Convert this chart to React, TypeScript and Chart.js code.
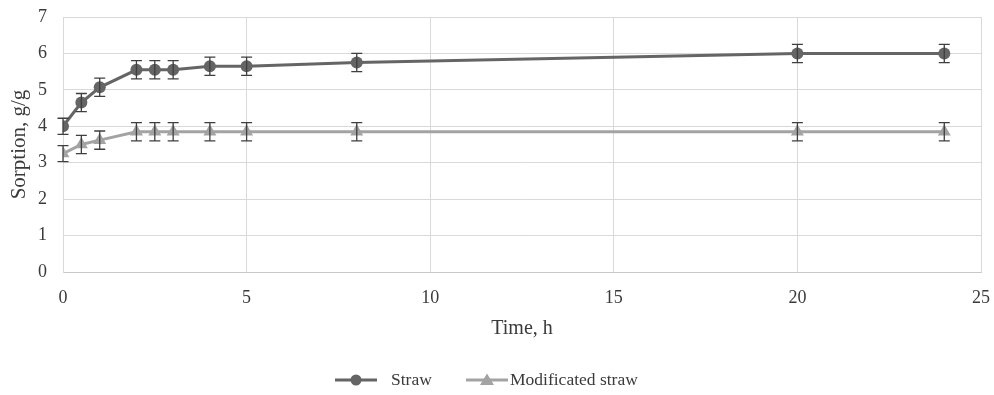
import React, { useEffect, useRef } from "react";
import { Chart, registerables } from "chart.js";

Chart.register(...registerables);

const times = [0, 0.5, 1, 2, 2.5, 3, 4, 5, 8, 20, 24];
const strawValues = [4.0, 4.65, 5.07, 5.55, 5.55, 5.55, 5.65, 5.65, 5.75, 6.0, 6.0];
const strawErrors = [0.22, 0.25, 0.25, 0.25, 0.25, 0.25, 0.25, 0.25, 0.25, 0.25, 0.25];
const modValues = [3.25, 3.5, 3.62, 3.85, 3.85, 3.85, 3.85, 3.85, 3.85, 3.85, 3.85];
const modErrors = [0.22, 0.25, 0.25, 0.25, 0.25, 0.25, 0.25, 0.25, 0.25, 0.25, 0.25];
const seriesNames = ["Straw", "Modificated straw"];
const xTitle = "Time, h";
const yTitle = "Sorption, g/g";

const FONT = "'Liberation Serif', 'Times New Roman', serif";
const STRAW_COLOR = "#656565";
const MOD_COLOR = "#a3a3a3";
const ERR_COLOR = "#3f3f3f";
const TEXT_COLOR = "#3a3a3a";

const errorBarPlugin = {
  id: "errorBars",
  afterDatasetsDraw(chart: any) {
    const ctx = chart.ctx;
    const yScale = chart.scales.y;
    const errs = [strawErrors, modErrors];
    chart.data.datasets.forEach((ds: any, di: number) => {
      const meta = chart.getDatasetMeta(di);
      meta.data.forEach((pt: any, i: number) => {
        const v = ds.data[i].y;
        const e = errs[di][i];
        const yTop = yScale.getPixelForValue(v + e);
        const yBot = yScale.getPixelForValue(v - e);
        const x = pt.x;
        ctx.save();
        ctx.strokeStyle = ERR_COLOR;
        ctx.lineWidth = 1.3;
        ctx.beginPath();
        ctx.moveTo(x, yTop);
        ctx.lineTo(x, yBot);
        ctx.moveTo(x - 5.5, yTop);
        ctx.lineTo(x + 5.5, yTop);
        ctx.moveTo(x - 5.5, yBot);
        ctx.lineTo(x + 5.5, yBot);
        ctx.stroke();
        ctx.restore();
      });
    });
  },
};

const legendPlugin = {
  id: "customLegend",
  afterDraw(chart: any) {
    const ctx = chart.ctx;
    const y = 380;
    ctx.save();
    ctx.strokeStyle = STRAW_COLOR;
    ctx.lineWidth = 3;
    ctx.beginPath();
    ctx.moveTo(335, y);
    ctx.lineTo(377, y);
    ctx.stroke();
    ctx.fillStyle = STRAW_COLOR;
    ctx.beginPath();
    ctx.arc(356, y, 5.5, 0, Math.PI * 2);
    ctx.fill();
    ctx.font = `17.5px ${FONT}`;
    ctx.fillStyle = TEXT_COLOR;
    ctx.textBaseline = "middle";
    ctx.textAlign = "left";
    ctx.fillText(seriesNames[0], 391, y);
    ctx.strokeStyle = MOD_COLOR;
    ctx.beginPath();
    ctx.moveTo(466, y);
    ctx.lineTo(508, y);
    ctx.stroke();
    ctx.fillStyle = MOD_COLOR;
    ctx.beginPath();
    ctx.moveTo(487, y - 6.5);
    ctx.lineTo(494, y + 5);
    ctx.lineTo(480, y + 5);
    ctx.closePath();
    ctx.fill();
    ctx.fillStyle = TEXT_COLOR;
    ctx.fillText(seriesNames[1], 510, y);
    ctx.restore();
  },
};

export default function App() {
  const ref = useRef<HTMLCanvasElement | null>(null);
  useEffect(() => {
    if (!ref.current) return;
    const chart = new Chart(ref.current, {
      type: "line",
      data: {
        datasets: [
          {
            label: seriesNames[0],
            data: times.map((t, i) => ({ x: t, y: strawValues[i] })),
            borderColor: STRAW_COLOR,
            backgroundColor: STRAW_COLOR,
            borderWidth: 3,
            pointStyle: "circle",
            pointRadius: 6,
            pointBorderWidth: 0,
            tension: 0,
          },
          {
            label: seriesNames[1],
            data: times.map((t, i) => ({ x: t, y: modValues[i] })),
            borderColor: MOD_COLOR,
            backgroundColor: MOD_COLOR,
            borderWidth: 3,
            pointStyle: "triangle",
            pointRadius: 7.5,
            pointBorderWidth: 0,
            tension: 0,
          },
        ],
      },
      options: {
        responsive: false,
        animation: false,
        layout: { padding: { top: 17, right: 13, bottom: 53, left: 0 } },
        plugins: {
          legend: { display: false },
          tooltip: { enabled: false },
        },
        scales: {
          x: {
            type: "linear",
            min: 0,
            max: 25,
            ticks: {
              stepSize: 5,
              color: TEXT_COLOR,
              font: { family: FONT, size: 18 },
              padding: 15,
            },
            grid: { color: "#d9d9d9", drawTicks: false },
            border: { color: "#c8c8c8" },
            title: {
              display: true,
              text: xTitle,
              color: TEXT_COLOR,
              font: { family: FONT, size: 20 },
              padding: { top: 5, bottom: 1 },
            },
            afterFit(scale: any) {
              scale.height = 70;
              scale.paddingLeft = 0;
              scale.paddingRight = 0;
            },
          },
          y: {
            min: 0,
            max: 7,
            ticks: {
              stepSize: 1,
              color: TEXT_COLOR,
              font: { family: FONT, size: 18 },
              padding: 16,
            },
            grid: { color: "#d9d9d9", drawTicks: false },
            border: { color: "#d9d9d9" },
            title: {
              display: true,
              text: yTitle,
              color: TEXT_COLOR,
              font: { family: FONT, size: 21 },
              padding: { top: 7, bottom: 0 },
            },
            afterFit(scale: any) {
              scale.width = 63;
              scale.paddingTop = 0;
              scale.paddingBottom = 0;
            },
          },
        },
      },
      plugins: [errorBarPlugin, legendPlugin],
    });
    return () => chart.destroy();
  }, []);
  return (
    <div style={{ position: "fixed", left: 0, top: 0, width: 994, height: 395, background: "#fff" }}>
      <canvas ref={ref} width={994} height={395} style={{ width: 994, height: 395 }} />
    </div>
  );
}
